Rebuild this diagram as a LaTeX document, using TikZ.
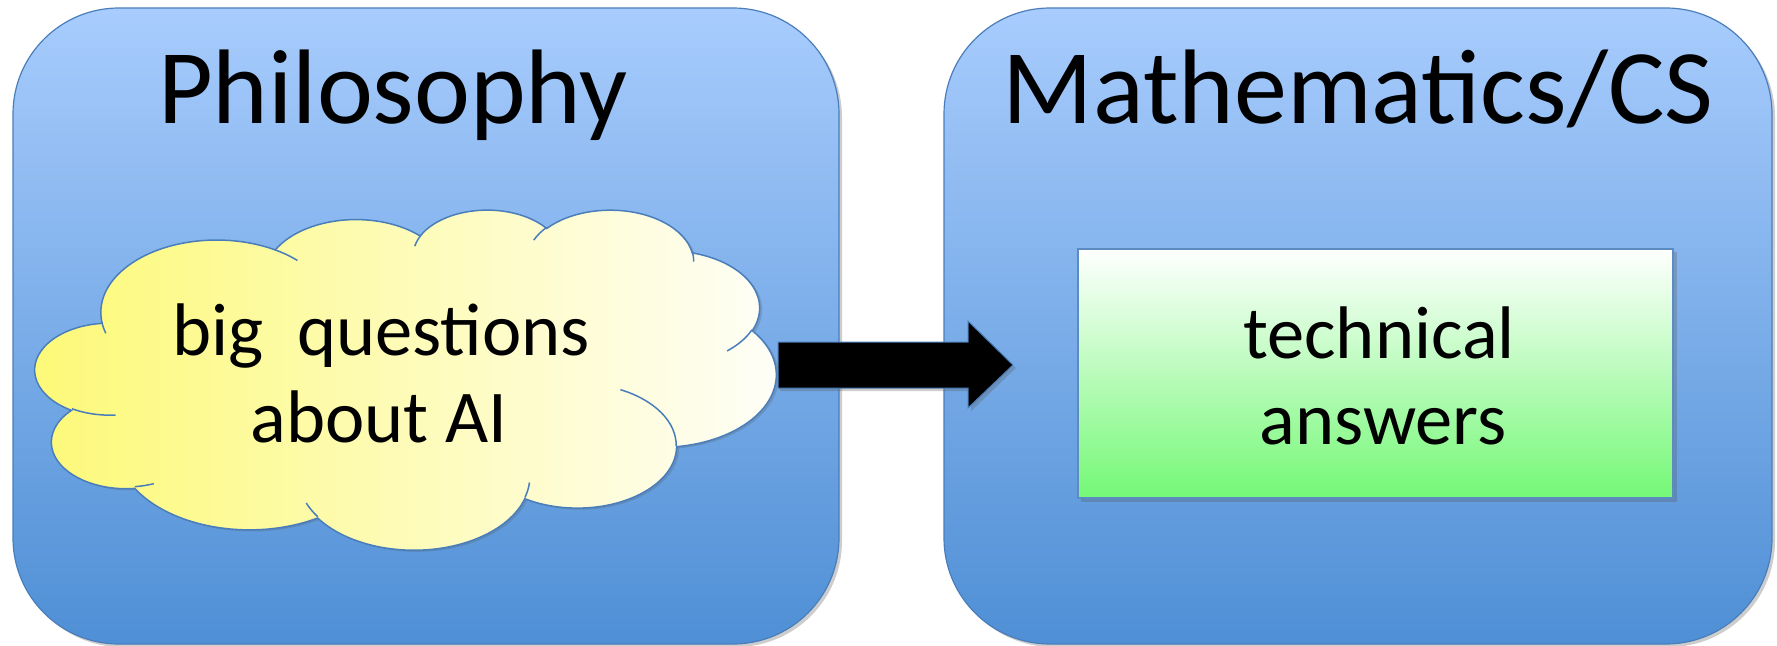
\documentclass[tikz,border=0pt]{standalone}
\usepackage{fontspec}
\setmainfont{Carlito}
\definecolor{boxtop}{RGB}{168,204,253}
\definecolor{boxbot}{RGB}{79,143,213}
\definecolor{boxline}{RGB}{74,126,187}
\definecolor{cloudL}{RGB}{253,249,118}
\definecolor{cloudR}{RGB}{254,254,250}
\definecolor{greenbot}{RGB}{116,248,118}
\definecolor{shadowc}{RGB}{90,90,90}
\newcommand\carc[4]{arc[x radius=#1, y radius=#2, start angle={atan2(#1*sin(#3),#2*cos(#3))}, delta angle={Mod(atan2(#1*sin(#3+#4),#2*cos(#3+#4))-atan2(#1*sin(#3),#2*cos(#3)),360)}]}
\tikzset{
  bigbox/.style={draw=boxline, line width=1.2pt, top color=boxtop, bottom color=boxbot, rounded corners=106pt},
  boxshadow/.style={fill=shadowc, opacity=0.3, rounded corners=106pt},
  cloudshape/.style={draw=boxline, line width=1.5pt, left color=cloudL, right color=cloudR},
  cloudline/.style={draw=boxline, line width=1.5pt},
  answerbox/.style={draw=boxline!90!white, line width=2.5pt, top color=white, bottom color=greenbot},
  blockarrow/.style={fill=black, draw=boxline, line width=1pt},
  title/.style={anchor=base, inner sep=0pt, font=\fontsize{106}{127}\selectfont},
  body/.style={anchor=base, inner sep=0pt, font=\fontsize{74.5}{89}\selectfont}
}
\begin{document}
\begin{tikzpicture}[x=1pt,y=-1pt]
\useasboundingbox (0,0) rectangle (1777,645);
\fill[white] (0,0) rectangle (1777,645);
% shadows of the two large boxes
\fill[boxshadow] (16,11) rectangle (842,647);
\fill[boxshadow] (947,11) rectangle (1775,647);
% large boxes
\path[bigbox] (13,8) rectangle (839,644);
\path[bigbox] (944,8) rectangle (1772,644);
% green answer box
\fill[shadowc, opacity=0.3] (1081,252) rectangle (1677,502);
\path[answerbox] (1078,249) rectangle (1673,498);
% cloud
\begin{scope}[shift={(35,209)}, x=1.7153pt, y=-0.787pt]
\fill[shadowc, opacity=0.25, shift={(1.5,2)}] (39.00,143.70) \carc{67.53}{91.90}{-190.4875}{123.7805} \carc{53.33}{72.67}{-144.10238}{89.94523} \carc{43.65}{59.45}{-145.80792}{99.72302} \carc{48.57}{65.95}{-130.98607}{117.24173} \carc{53.33}{72.73}{-78.70888}{109.02692} \carc{67.75}{92.20}{-46.26725}{130.269} \carc{57.85}{78.67}{0.62502}{114.03333} \carc{67.52}{92.15}{22.4516}{115.17255} \carc{77.20}{105.43}{66.24263}{75.48382} \carc{43.60}{59.18}{-274.94208}{146.73557} \carc{43.45}{59.45}{-246.8285}{152.51885} -- cycle;
\path[cloudshape] (39.00,143.70) \carc{67.53}{91.90}{-190.4875}{123.7805} \carc{53.33}{72.67}{-144.10238}{89.94523} \carc{43.65}{59.45}{-145.80792}{99.72302} \carc{48.57}{65.95}{-130.98607}{117.24173} \carc{53.33}{72.73}{-78.70888}{109.02692} \carc{67.75}{92.20}{-46.26725}{130.269} \carc{57.85}{78.67}{0.62502}{114.03333} \carc{67.52}{92.15}{22.4516}{115.17255} \carc{77.20}{105.43}{66.24263}{75.48382} \carc{43.60}{59.18}{-274.94208}{146.73557} \carc{43.45}{59.45}{-246.8285}{152.51885} -- cycle;
\path[cloudline] (46.93,261.77) \carc{43.45}{59.45}{86.742}{26.4295}
  (69.28,348.99) \carc{43.60}{59.18}{73.61047}{11.44747}
  (164.78,390.90) \carc{67.52}{92.15}{137.62415}{14.0811}
  (288.27,347.51) \carc{67.52}{92.15}{6.45327}{15.99835}
  (341.29,229.54) \carc{57.85}{78.67}{-70.29235}{70.91737}
  (417.98,153.54) \carc{53.33}{72.73}{30.31803}{27.7515}
  (383.24,54.26) \carc{48.57}{65.95}{-13.74433}{14.8589}
  (290.78,39.52) \carc{48.57}{65.95}{-149.18145}{18.19537}
  (221.41,47.20) \carc{43.65}{59.45}{-163.49427}{17.68635}
  (140.00,51.92) \carc{67.53}{91.90}{-66.70695}{12.31935}
  (41.27,157.89) \carc{67.53}{91.90}{157.65435}{11.85817};
\end{scope}
% block arrow
\fill[shadowc, opacity=0.3] (780,345) -- (971,345) -- (971,324) -- (1016,368) -- (971,411) -- (971,391) -- (780,391) -- cycle;
\path[blockarrow] (778,342) -- (968,342) -- (968,321) -- (1013,365) -- (968,408) -- (968,388) -- (778,388) -- cycle;
% texts
\node[title] (phil) at (393,123.5) {Philosophy};
\node[title] (math) at (1358,123.5) {Mathematics/CS};
\node[body] (q1) at (381,355) {big~~questions};
\node[body] (q2) at (379,442) {about AI};
\node[body] (a1) at (1379,358) {technical};
\node[body] (a2) at (1383,444) {answers};
\end{tikzpicture}
\end{document}
